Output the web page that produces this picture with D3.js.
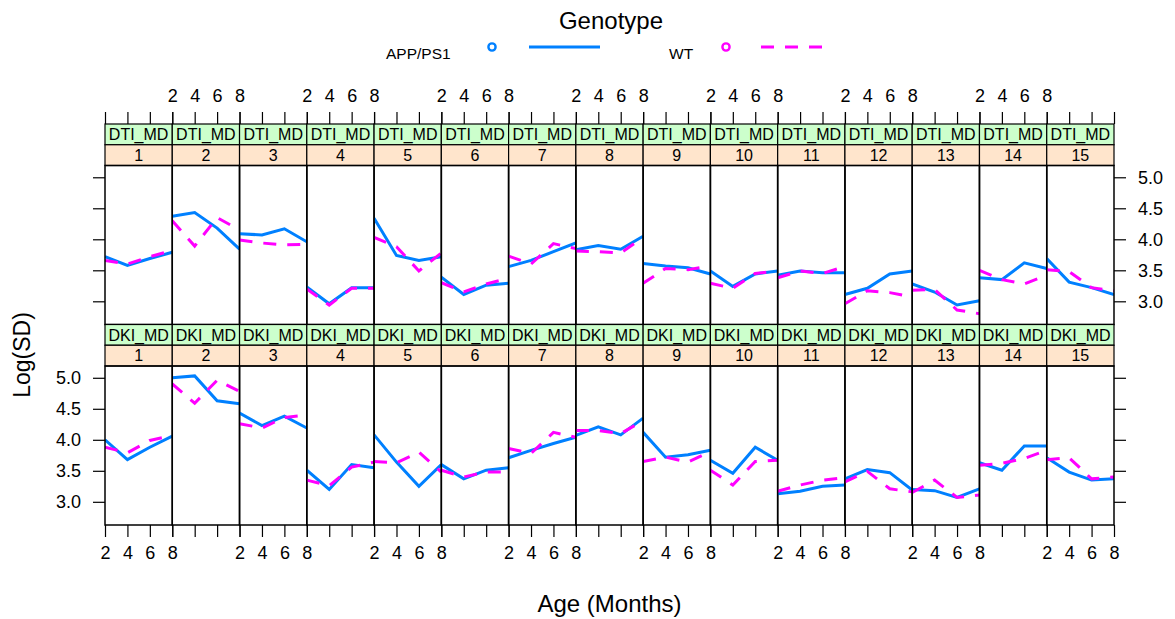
<!DOCTYPE html>
<html>
<head>
<meta charset="utf-8">
<script src="https://cdn.jsdelivr.net/npm/d3@7"></script>
<style>
  html, body { margin: 0; padding: 0; background: #fff; }
  svg { display: block; font-family: "Liberation Sans", Arial, Helvetica, sans-serif; }
</style>
</head>
<body>
<svg id="chart" width="1175" height="619"></svg>
<script>
// Ages at which SD was measured (months)
const ages = [2, 4, 6, 8];
// Brain regions (panel index)
const regions = d3.range(1, 16);
// Diffusion measures, one per row of panels
const measures = ["DTI_MD", "DKI_MD"];
const genotypes = ["APP/PS1", "WT"];
const yTicks = [3.0, 3.5, 4.0, 4.5, 5.0];

// Log(SD) per region, ages 2/4/6/8
const dtiApp = [
  [3.72, 3.58, 3.69, 3.79], [4.37, 4.43, 4.18, 3.84], [4.09, 4.07, 4.17, 3.96],
  [3.23, 2.96, 3.22, 3.22], [4.34, 3.74, 3.66, 3.72], [3.39, 3.11, 3.26, 3.29],
  [3.56, 3.66, 3.80, 3.94], [3.83, 3.90, 3.84, 4.05], [3.61, 3.57, 3.54, 3.44],
  [3.49, 3.24, 3.44, 3.49], [3.42, 3.49, 3.46, 3.46], [3.11, 3.21, 3.44, 3.49],
  [3.28, 3.15, 2.94, 3.01], [3.38, 3.35, 3.62, 3.53], [3.69, 3.31, 3.22, 3.11]
];
const dtiWt = [
  [3.66, 3.60, 3.72, 3.82], [4.30, 3.89, 4.35, 4.15], [3.99, 3.94, 3.91, 3.92],
  [3.20, 2.94, 3.21, 3.21], [4.03, 3.88, 3.49, 3.78], [3.30, 3.15, 3.28, 3.37],
  [3.73, 3.60, 3.93, 3.85], [3.81, 3.80, 3.78, 4.03], [3.29, 3.53, 3.51, 3.57],
  [3.29, 3.21, 3.45, 3.49], [3.38, 3.49, 3.45, 3.56], [2.96, 3.17, 3.14, 3.07],
  [3.18, 3.19, 2.86, 2.80], [3.50, 3.35, 3.28, 3.42], [3.51, 3.48, 3.22, 3.17]
];
const dkiApp = [
  [4.00, 3.68, 3.88, 4.06], [5.00, 5.03, 4.63, 4.58], [4.43, 4.23, 4.38, 4.19],
  [3.51, 3.20, 3.60, 3.55], [4.08, 3.64, 3.25, 3.60], [3.60, 3.37, 3.51, 3.55],
  [3.71, 3.83, 3.94, 4.04], [4.07, 4.21, 4.08, 4.35], [4.12, 3.72, 3.76, 3.83],
  [3.67, 3.46, 3.88, 3.67], [3.13, 3.17, 3.25, 3.27], [3.37, 3.52, 3.47, 3.19],
  [3.20, 3.18, 3.07, 3.21], [3.63, 3.51, 3.90, 3.90], [3.71, 3.48, 3.35, 3.37]
];
const dkiWt = [
  [3.88, 3.79, 3.99, 4.07], [4.90, 4.59, 4.96, 4.78], [4.26, 4.19, 4.36, 4.40],
  [3.35, 3.26, 3.56, 3.64], [3.65, 3.63, 3.80, 3.48], [3.51, 3.40, 3.48, 3.48],
  [3.86, 3.78, 4.12, 4.04], [4.15, 4.15, 4.10, 4.31], [3.65, 3.72, 3.64, 3.81],
  [3.51, 3.27, 3.65, 3.67], [3.17, 3.27, 3.35, 3.39], [3.32, 3.49, 3.21, 3.16],
  [3.15, 3.35, 3.07, 3.11], [3.59, 3.62, 3.70, 3.83], [3.68, 3.71, 3.37, 3.40]
];

const seriesByMeasure = {
  DTI_MD: [dtiApp, dtiWt],
  DKI_MD: [dkiApp, dkiWt]
};

// Layout
const left = 105, right = 1114;
const panelW = (right - left) / regions.length;
const stripH = 20.75;
const panelH = 159;
const rowTop = [124, 124 + 2 * stripH + panelH];   // top of strips for each row
const tickLen = 12;
const colors = ["#0080ff", "#ff00ff"];
const dashes = [null, "13,11"];
const stripColors = ["#ccffcc", "#ffe5cc"];

const svg = d3.select("#chart");

const x = d3.scaleLinear().domain([2, 8]);
const y = d3.scaleLinear().domain([2.626, 5.19]).range([panelH, 0]);

const line = d3.line().x((d, i) => x(ages[i])).y(d => y(d));

svg.append("defs").append("clipPath").attr("id", "panelClip")
  .append("rect").attr("width", panelW).attr("height", panelH);

measures.forEach((m, r) => {
  const stripTop = rowTop[r];
  const pTop = stripTop + 2 * stripH;

  regions.forEach((reg, c) => {
    const px = left + c * panelW;
    x.range([0, panelW]);
    const g = svg.append("g").attr("transform", `translate(${px},0)`);

    // Strips: measure name above, region number below
    [m, String(reg)].forEach((lab, k) => {
      const sy = stripTop + k * stripH;
      g.append("rect").attr("x", 0).attr("y", sy).attr("width", panelW).attr("height", stripH)
        .attr("fill", stripColors[k]).attr("stroke", "#000").attr("stroke-width", 1.2);
      g.append("text").attr("x", panelW / 2).attr("y", sy + stripH / 2 + 5.8)
        .attr("text-anchor", "middle").attr("font-size", 16).attr("fill", "#000").text(lab);
    });

    const pg = g.append("g").attr("transform", `translate(0,${pTop})`);
    const lines = pg.append("g").attr("clip-path", "url(#panelClip)");
    seriesByMeasure[m].forEach((s, k) => {
      lines.append("path").datum(s[c])
        .attr("d", line)
        .attr("fill", "none")
        .attr("stroke", colors[k])
        .attr("stroke-width", 3)
        .attr("stroke-dasharray", dashes[k]);
    });
    pg.append("rect").attr("width", panelW).attr("height", panelH)
      .attr("fill", "none").attr("stroke", "#000").attr("stroke-width", 1.5);

    // Horizontal axes: top of first row, bottom of last row, labels alternate
    const fmt = d3.format("d");
    if (r === 0) {
      const ax = d3.axisTop(x).tickValues(ages).tickFormat(fmt).tickSize(tickLen).tickSizeOuter(0).tickPadding(10);
      const ag = g.append("g").attr("transform", `translate(0,${stripTop})`).call(ax);
      ag.select(".domain").remove();
      if (c % 2 === 0) ag.selectAll("text").remove();
      styleAxis(ag);
    }
    if (r === measures.length - 1) {
      const ax = d3.axisBottom(x).tickValues(ages).tickFormat(fmt).tickSize(tickLen).tickSizeOuter(0).tickPadding(9);
      const ag = g.append("g").attr("transform", `translate(0,${pTop + panelH})`).call(ax);
      ag.select(".domain").remove();
      if (c % 2 === 1) ag.selectAll("text").remove();
      styleAxis(ag);
    }
  });

  // Vertical axes: labels on the right for the first row, on the left for the second
  const yl = d3.axisLeft(y).tickValues(yTicks).tickFormat(d3.format(".1f")).tickSize(tickLen).tickSizeOuter(0).tickPadding(12);
  const yr = d3.axisRight(y).tickValues(yTicks).tickFormat(d3.format(".1f")).tickSize(tickLen).tickSizeOuter(0).tickPadding(12);
  const gl = svg.append("g").attr("transform", `translate(${left},${pTop})`).call(yl);
  const gr = svg.append("g").attr("transform", `translate(${right},${pTop})`).call(yr);
  [gl, gr].forEach(a => a.select(".domain").remove());
  if (r === 0) gl.selectAll("text").remove(); else gr.selectAll("text").remove();
  styleAxis(gl); styleAxis(gr);
});

function styleAxis(ag) {
  ag.selectAll("line").attr("stroke", "#000").attr("stroke-width", 1.2);
  ag.selectAll("text").attr("font-size", 18).attr("fill", "#000")
    .attr("font-family", "'Liberation Sans', Arial, sans-serif");
}

// Axis titles
svg.append("text").attr("x", (left + right) / 2).attr("y", 612)
  .attr("text-anchor", "middle").attr("font-size", 24).attr("fill", "#000").text("Age (Months)");
svg.append("text").attr("transform", "translate(30,355) rotate(-90)")
  .attr("text-anchor", "middle").attr("font-size", 23).attr("fill", "#000").text("Log(SD)");

// Legend
const leg = svg.append("g");
leg.append("text").attr("x", 611).attr("y", 29).attr("text-anchor", "middle")
  .attr("font-size", 24).attr("fill", "#000").text("Genotype");
const legItems = [
  { textX: 386, circleX: 492, lineX: [529, 600] },
  { textX: 669, circleX: 726, lineX: [761, 826] }
];
genotypes.forEach((gname, k) => {
  const it = legItems[k];
  leg.append("text").attr("x", it.textX).attr("y", 59).attr("font-size", 15.5)
    .attr("fill", "#000").text(gname);
  leg.append("circle").attr("cx", it.circleX).attr("cy", 47).attr("r", 3.6)
    .attr("fill", "none").attr("stroke", colors[k]).attr("stroke-width", 2.4);
  leg.append("line").attr("x1", it.lineX[0]).attr("x2", it.lineX[1]).attr("y1", 47).attr("y2", 47)
    .attr("stroke", colors[k]).attr("stroke-width", 3).attr("stroke-dasharray", dashes[k]);
});
</script>
</body>
</html>
